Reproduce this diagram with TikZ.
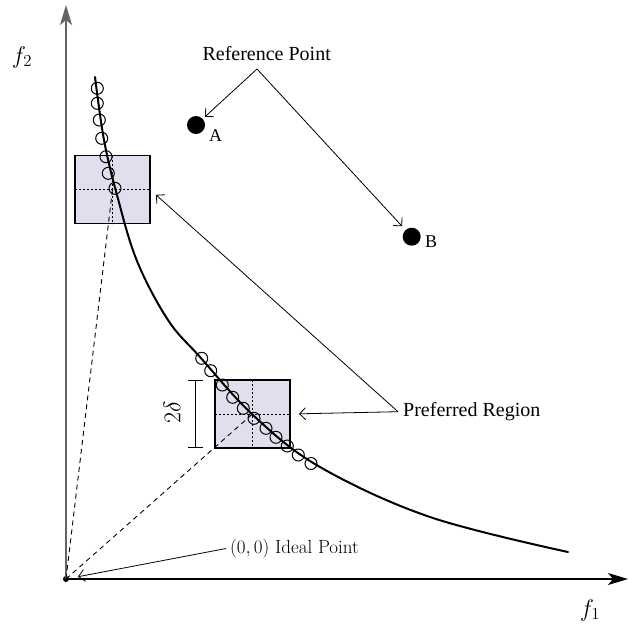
\documentclass[tikz,border=0pt]{standalone}
\usepackage{fontspec}
\usepackage{fix-cm}
\newfontfamily\tms{Liberation Serif}
\usetikzlibrary{arrows.meta}
\definecolor{regionfill}{RGB}{223,223,238}
\definecolor{axisgray}{RGB}{100,100,100}
\begin{document}
\begin{tikzpicture}[x=1pt,y=-1pt,
  axisarrow/.style={-{Stealth[length=20pt,width=12pt,inset=5pt]}},
  pointer/.style={-{Straight Barb[length=6pt,width=12pt]},line width=0.8pt},
  region/.style={draw=black,line width=1.1pt,fill=regionfill,minimum width=75pt,minimum height=68pt,inner sep=0pt,outer sep=0pt},
  sol/.style={circle,draw=black,line width=1pt,minimum size=12pt,inner sep=0pt},
  refpt/.style={circle,fill=black,minimum size=18pt,inner sep=0pt},
  tlabel/.style={font=\tms\fontsize{20}{24}\selectfont,inner sep=0pt},
  ablabel/.style={font=\tms\fontsize{18}{22}\selectfont,inner sep=0pt},
  lmlabel/.style={font=\fontsize{19}{23}\selectfont,inner sep=0pt},
  axlabel/.style={font=\fontsize{24}{28}\selectfont,inner sep=0pt},
  dotline/.style={line width=0.9pt,dash pattern=on 2pt off 2pt},
  dashline/.style={line width=0.9pt,dash pattern=on 5pt off 4pt}
]
\useasboundingbox (0,0) rectangle (628,625);

% origin and axes
\node[circle,fill=black,minimum size=6pt,inner sep=0pt] (O) at (66,579) {};
\coordinate (ytop) at (66,5);
\coordinate (xend) at (628,579);
\draw[axisgray,line width=2pt,axisarrow] (O.center) -- (ytop);
\draw[black,line width=1.2pt,axisarrow] (O.center) -- (xend);
\node[axlabel] (f2) at (22,57) {$f_2$};
\node[axlabel] (f1) at (590,610) {$f_1$};

% preferred regions
\node[region] (box1) at (112.5,189.5) {};
\node[region] (box2) at (252.5,414) {};
\draw[dotline] (box1.west) -- (box1.east);
\draw[dotline] (box1.north) -- (box1.south);
\draw[dotline] (box2.west) -- (box2.east);
\draw[dotline] (box2.north) -- (box2.south);
\draw[dashline] (O.center) -- (box1.center);
\draw[dashline] (O.center) -- (box2.center);

% Pareto front
\draw[line width=2pt,line cap=round] plot[smooth,tension=0.6] coordinates {
 (95,77) (104,140) (117,195) (137,261) (168,320) (200,357) (254,416) (320,467) (430,517) (568,552)};

% solutions
\foreach \p [count=\i] in {(97.3,88.3),(97.3,103.3),(99.3,120),(101.7,138.3),(106,156.7),(108.3,173.3),(115,188.3)}
  \node[sol] (u\i) at \p {};
\foreach \p [count=\i] in {(201.7,358.3),(210.7,370.7),(222.3,385),(232.7,397.3),(243.3,408.3),(254,418.3),(266,428.3),(276,437.3),(287.3,446),(298.3,455),(311,463.5)}
  \node[sol] (l\i) at \p {};

% 2 delta bracket
\coordinate (dtop) at (195,380);
\coordinate (dbot) at (195,448);
\draw[line width=1pt,{Bar[width=15pt]}-{Bar[width=15pt]}] (dtop) -- (dbot);
\node[axlabel,rotate=90] (delta) at (172,412) {$2\delta$};

% reference points
\node[refpt] (A) at (196,125) {};
\node[refpt] (B) at (411.7,236.7) {};
\node[ablabel,anchor=west] (Alab) at (209,136) {A};
\node[ablabel,anchor=west] (Blab) at (425,242) {B};
\node[tlabel] (ref) at (266.7,54) {Reference Point};
\coordinate (refapex) at (257,69);
\draw[pointer,shorten >=3pt] (refapex) -- (A);
\draw[pointer,shorten >=5pt] (refapex) -- (B);

% preferred region label
\node[tlabel,anchor=west] (pref) at (403,411.7) {Preferred Region};
\coordinate (prefapex) at (398,411.7);
\draw[pointer,shorten >=9pt] (prefapex) -- (box2.east);
\draw[pointer,shorten >=8pt] (prefapex) -- (box1.east);

% ideal point
\node[lmlabel,anchor=west] (ideal) at (230,548.3) {$(0,0)$ Ideal Point};
\coordinate (idealend) at (226,548.5);
\draw[pointer,shorten >=9pt] (idealend) -- (O);
\end{tikzpicture}
\end{document}
